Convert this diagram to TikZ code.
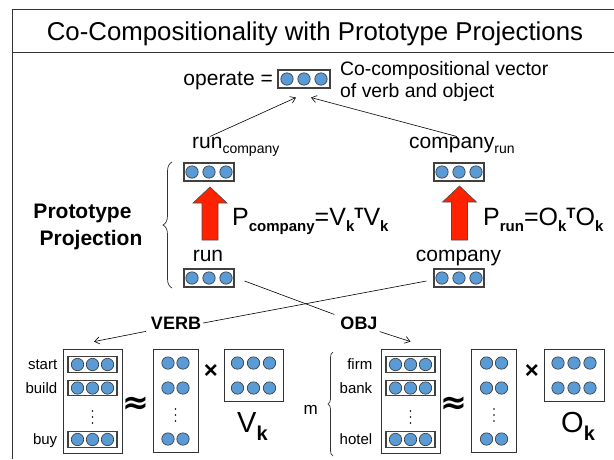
\documentclass[tikz,border=0pt]{standalone}
\usepackage{fontspec}
\setmainfont{Liberation Sans}
\newfontfamily\signfont{DejaVu Sans}
\usepackage{xcolor}
\usepackage{tikz}
\usetikzlibrary{calc}
\usetikzlibrary{positioning, arrows.meta, decorations.pathreplacing}
\definecolor{ballblue}{RGB}{91,155,213}
\definecolor{arrowred}{RGB}{255,34,0}

% sub- and superscripts of the formulas
\newcommand{\lowsub}[1]{\raisebox{-6pt}{\fontsize{15}{15}\selectfont\bfseries #1}}
\newcommand{\highsup}[1]{\raisebox{6.5pt}{\fontsize{15}{15}\selectfont\bfseries #1}}
\newcommand{\namesub}[1]{\raisebox{-5pt}{\fontsize{14}{14}\selectfont #1}}
% blue balls round a node centre
\newcommand{\balls}[2]{\foreach \dx in {#2} \draw[ball] ([xshift=\dx pt]#1) circle (6.2pt);}
% three small dots standing in a column
\newcommand{\coldots}[2]{\foreach \dy in {-6,0,6} \fill ([yshift=\dy pt]#1,#2) circle (0.9pt);}
% big red arrow pointing up: centre x, tip y, tail y
\newcommand{\redup}[3]{\filldraw[red_arrow] ({#1-8},#3) -- ({#1-8},{#2+16}) -- ({#1-17},{#2+16}) -- (#1,#2) -- ({#1+17},{#2+16}) -- ({#1+8},{#2+16}) -- ({#1+8},#3) -- cycle;}

\begin{document}
\begin{tikzpicture}[
		x=1pt, y=-1pt,
		% Styles
		frame_line/.style={draw=black!80, line width=0.8pt},
		vec_box/.style={rectangle, draw=black!75, line width=1.1pt, minimum width=50pt, minimum height=18pt, inner sep=0pt},
		row_box/.style={vec_box, minimum width=49pt, minimum height=15.5pt},
		mat_box/.style={rectangle, draw=black!80, line width=0.8pt, inner sep=0pt},
		ball/.style={draw=black!80, line width=0.6pt, fill=ballblue},
		word/.style={inner sep=0pt, font=\fontsize{21}{21}\selectfont},
		note_word/.style={inner sep=0pt, font=\fontsize{19.4}{19.4}\selectfont},
		small_word/.style={inner sep=0pt, font=\fontsize{15}{15}\selectfont},
		bold_word/.style={inner sep=2pt, font=\fontsize{18}{18}\selectfont\bfseries},
		head_word/.style={inner sep=0pt, font=\fontsize{21}{21}\selectfont\bfseries},
		formula/.style={inner sep=0pt, font=\fontsize{25}{25}\selectfont},
		big_word/.style={inner sep=0pt, font=\fontsize{29}{29}\selectfont},
		sign/.style={inner sep=0pt, font=\fontsize{#1}{#1}\selectfont\bfseries},
		thin_line/.style={draw=black, line width=0.6pt},
		thin_arrow/.style={thin_line, ->, >={Straight Barb[length=5pt,width=7pt]}},
		red_arrow/.style={fill=arrowred, draw=black!70, line width=0.6pt},
		curly/.style={draw=black!80, line width=0.7pt, decorate, decoration={brace, amplitude=#1}}
	]
	\useasboundingbox (0,0) rectangle (614,459);

	% --- Frame and title ---
	\draw[frame_line] (614,9.5) -- (12,9.5) -- (12,459);
	\draw[frame_line] (12,52) -- (614,52);
	\node[inner sep=0pt, font=\fontsize{25.8}{25.8}\selectfont, anchor=base] (title) at (315,40) {Co-Compositionality with Prototype Projections};

	% --- Composed vector ---
	\node[vec_box, minimum width=52pt] (operate_vec) at (304,79) {};
	\node[word, anchor=base east] (operate_lbl) at (273,85) {operate =};
	\node[note_word, anchor=base west] (note_a) at (340,75) {Co-compositional vector};
	\node[note_word, anchor=base west] (note_b) at (340,97) {of verb and object};

	% --- Projected vectors ---
	\node[vec_box] (run_company_vec) at (209,172) {};
	\node[vec_box] (company_run_vec) at (459,172) {};
	\node[word, anchor=base west] (run_company_lbl) at (192,148) {run\namesub{company}};
	\node[word, anchor=base west] (company_run_lbl) at (409,148) {company\namesub{run}};

	% --- Word vectors ---
	\node[vec_box] (run_vec) at (209,278) {};
	\node[vec_box] (company_vec) at (459,278) {};
	\node[word, anchor=base] (run_lbl) at (208,261) {run};
	\node[word, anchor=base] (company_lbl) at (458.5,261) {company};

	\balls{operate_vec.center}{-17,0,17}
	\balls{run_company_vec.center}{-17,0,17}
	\balls{company_run_vec.center}{-17,0,17}
	\balls{run_vec.center}{-17,0,17}
	\balls{company_vec.center}{-17,0,17}

	% --- Projection ---
	\redup{210}{187}{240}
	\redup{459.5}{186}{240}
	\node[formula, anchor=base west] (p_company) at (232,225) {P\lowsub{company}=V\lowsub{k}\highsup{T}V\lowsub{k}};
	\node[formula, anchor=base west] (p_run) at (483,225) {P\lowsub{run}=O\lowsub{k}\highsup{T}O\lowsub{k}};
	\draw[curly=9pt] (172,288) -- (172,162);
	\node[head_word, anchor=base] (proto_a) at (82.5,218) {Prototype};
	\node[head_word, anchor=base] (proto_b) at (91,245) {Projection};

	% --- Roles ---
	\node[bold_word] (verb_lbl) at (176,323) {VERB};
	\node[bold_word] (obj_lbl) at (359,323) {OBJ};

	% --- Verb matrices ---
	\node[mat_box, minimum width=59pt, minimum height=104pt] (verb_mat) at (92.5,401) {};
	\node[row_box] (start_row) at (92.5,364.5) {};
	\node[row_box] (build_row) at (92.5,388) {};
	\node[row_box] (buy_row) at (92.5,439.5) {};
	\balls{start_row.center}{-15,0,15}
	\balls{build_row.center}{-15,0,15}
	\balls{buy_row.center}{-15,0,15}
	\coldots{92.5}{417}
	\node[small_word, anchor=base east] (start_lbl) at ([xshift=-10pt,yshift=-5pt]start_row.west) {start};
	\node[small_word, anchor=base east] (build_lbl) at ([xshift=-10pt,yshift=-5pt]build_row.west) {build};
	\node[small_word, anchor=base east] (buy_lbl) at ([xshift=-10pt,yshift=-5pt]buy_row.west) {buy};
	\node[sign=32, font=\signfont\fontsize{32}{32}\selectfont\bfseries] (verb_approx) at (136,405) {≈};
	\node[mat_box, minimum width=45pt, minimum height=103pt] (verb_left) at (175.5,400.5) {};
	\foreach \y in {363,388,439} \foreach \x in {168,183} \draw[ball] (\x,\y) circle (6.2pt);
	\coldots{175.5}{415}
	\node[sign=24] (verb_times) at (211,371) {×};
	\node[mat_box, minimum width=59pt, minimum height=52pt] (verb_basis) at (253.5,375) {};
	\foreach \y in {363,388} \foreach \x in {237.5,253.5,269.5} \draw[ball] (\x,\y) circle (6.2pt);
	\node[big_word, anchor=base west] (v_k) at (237,432) {V\raisebox{-8pt}{\fontsize{20}{20}\selectfont\bfseries k}};

	% --- Object matrices ---
	\node[mat_box, minimum width=59pt, minimum height=104pt] (obj_mat) at (410.5,401) {};
	\node[row_box] (firm_row) at (410.5,364.5) {};
	\node[row_box] (bank_row) at (410.5,388) {};
	\node[row_box] (hotel_row) at (410.5,439.5) {};
	\balls{firm_row.center}{-15,0,15}
	\balls{bank_row.center}{-15,0,15}
	\balls{hotel_row.center}{-15,0,15}
	\coldots{410.5}{417}
	\node[small_word, anchor=base east] (firm_lbl) at ([xshift=-13pt,yshift=-5pt]firm_row.west) {firm};
	\node[small_word, anchor=base east] (bank_lbl) at ([xshift=-13pt,yshift=-5pt]bank_row.west) {bank};
	\node[small_word, anchor=base east] (hotel_lbl) at ([xshift=-13pt,yshift=-5pt]hotel_row.west) {hotel};
	\draw[curly=5pt] (333,456) -- (333,352);
	\node[inner sep=0pt, font=\fontsize{17}{17}\selectfont, anchor=base east] (m_lbl) at (318,414) {m};
	\node[sign=32, font=\signfont\fontsize{32}{32}\selectfont\bfseries] (obj_approx) at (454,405) {≈};
	\node[mat_box, minimum width=45pt, minimum height=103pt] (obj_left) at (494,400.5) {};
	\foreach \y in {363,388,439} \foreach \x in {486.5,501.5} \draw[ball] (\x,\y) circle (6.2pt);
	\coldots{494}{415}
	\node[sign=24] (obj_times) at (532,371) {×};
	\node[mat_box, minimum width=60pt, minimum height=52pt] (obj_basis) at (574,375) {};
	\foreach \y in {363,388} \foreach \x in {558,574,590} \draw[ball] (\x,\y) circle (6.2pt);
	\node[big_word, anchor=base west] (o_k) at (561,432) {O\raisebox{-8pt}{\fontsize{20}{20}\selectfont\bfseries k}};

	% --- ARROWS ---
	% into the composed vector
	\draw[thin_arrow] ([xshift=18pt]run_company_lbl.north west) -- ([xshift=-8pt,yshift=-9pt]operate_vec.south);
	\draw[thin_arrow] ([xshift=-5pt]company_run_lbl.north) -- ([xshift=7pt,yshift=-9pt]operate_vec.south);

	% word vectors to roles
	\draw[thin_line] ([xshift=10pt,yshift=-3pt]run_vec.east) -- ([xshift=-4pt]obj_lbl.north west);
	\draw[thin_line] ([xshift=-7pt,yshift=-3pt]company_vec.west) -- (verb_lbl.east);

	% roles to matrices
	\draw[thin_arrow] ([xshift=-3pt]verb_lbl.south west) -- ([xshift=1.5pt,yshift=7pt]verb_mat.north);
	\draw[thin_arrow] (obj_lbl.south east) -- ([yshift=7pt]obj_mat.north);

\end{tikzpicture}
\end{document}
